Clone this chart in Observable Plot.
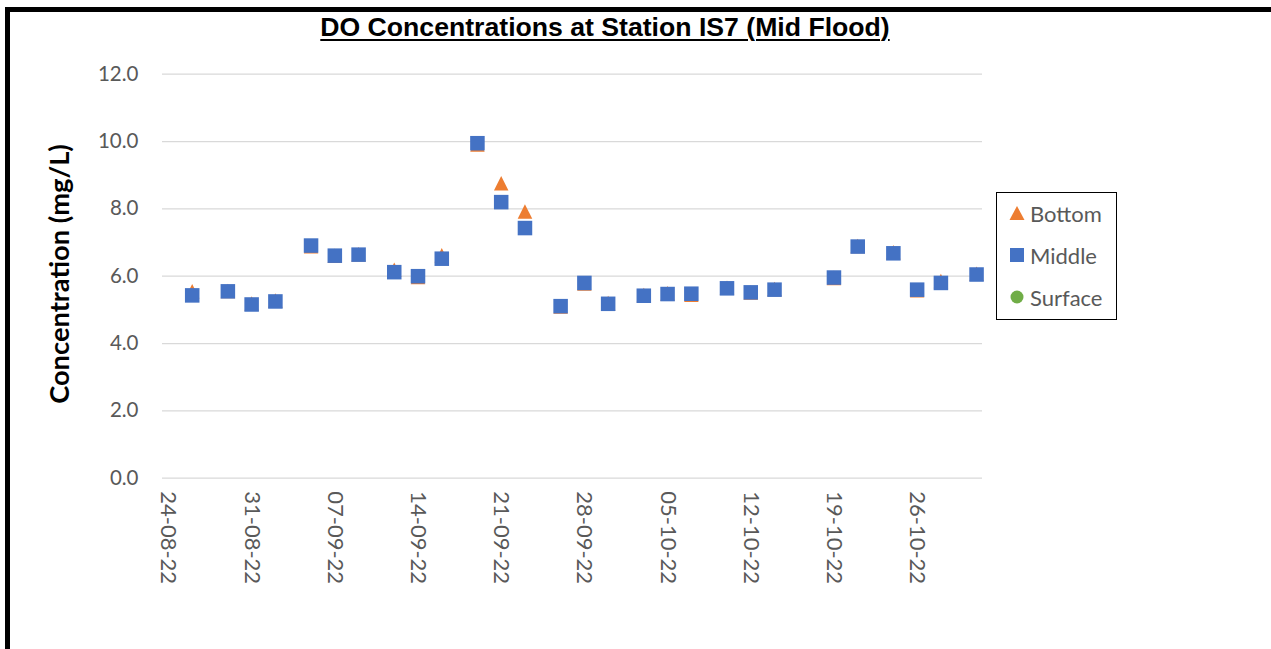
<!DOCTYPE html>
<html>
<head>
<meta charset="utf-8">
<script src="https://cdn.jsdelivr.net/npm/d3@7"></script>
<script src="https://cdn.jsdelivr.net/npm/@observablehq/plot@0.6"></script>
<style>
  html, body { margin: 0; padding: 0; background: #fff; }
  #wrap { position: relative; width: 1271px; height: 649px; overflow: hidden; background: #fff; }
  #frame { position: absolute; left: 5px; top: 7px; right: 0; bottom: 0; border-top: 5px solid #000; border-left: 5px solid #000; }
  #title { position: absolute; left: 0; width: 1210px; top: 14.5px; text-align: center; font-family: "Liberation Sans", Arimo, Arial, sans-serif; font-weight: bold; font-size: 25.5px; line-height: 1; text-decoration: underline; text-decoration-thickness: 2px; text-underline-offset: 3px; color: #000; transform: scaleX(1.044); transform-origin: 605px 50%; }
  #ylabel { position: absolute; left: 58px; top: 274px; transform: translate(-50%, -50%) rotate(-90deg); white-space: nowrap; font-family: Lato, "Open Sans", sans-serif; font-weight: bold; font-size: 27.3px; color: #000; }
  #legend { position: absolute; left: 996px; top: 192px; width: 119px; height: 126px; border: 1.5px solid #000; background: #fff; font-family: Lato, "Open Sans", sans-serif; font-size: 22px; color: #595959; }
  .li { position: absolute; left: 0; height: 30px; display: flex; align-items: center; }
  .li svg { margin-left: 12px; margin-right: 5px; }
  #chart { position: absolute; left: 0; top: 0; }
</style>
</head>
<body>
<div id="wrap">
  <div id="chart"></div>
  <div id="frame"></div>
  <div id="title"></div>
  <div id="ylabel"></div>
  <div id="legend"></div>
</div>
<script>
// ---- data ----
const titleText = "DO Concentrations at Station IS7 (Mid Flood)";
const yTitle = "Concentration (mg/L)";
const seriesNames = ["Bottom", "Middle", "Surface"];
const seriesColors = ["#ED7D31", "#4472C4", "#70AD47"];

const sampleDates = ["2022-08-26","2022-08-29","2022-08-31","2022-09-02","2022-09-05","2022-09-07","2022-09-09",
  "2022-09-12","2022-09-14","2022-09-16","2022-09-19","2022-09-21","2022-09-23","2022-09-26","2022-09-28",
  "2022-09-30","2022-10-03","2022-10-05","2022-10-07","2022-10-10","2022-10-12","2022-10-14","2022-10-19",
  "2022-10-21","2022-10-24","2022-10-26","2022-10-28","2022-10-31"];
const bottomValues = [5.55,5.56,5.19,5.28,6.89,6.61,6.65,6.19,5.98,6.62,9.91,8.76,7.92,5.10,5.78,
  5.20,5.44,5.49,5.45,5.66,5.52,5.62,5.95,6.90,6.71,5.58,5.86,6.07];
const middleValues = [5.43,5.55,5.16,5.25,6.91,6.61,6.64,6.12,6.00,6.52,9.95,8.20,7.43,5.11,5.80,
  5.18,5.42,5.47,5.48,5.64,5.52,5.60,5.96,6.88,6.68,5.60,5.80,6.05];
const surfaceValues = []; // no surface readings shown at mid flood

const xTickLabels = ["2022-08-24","2022-08-31","2022-09-07","2022-09-14","2022-09-21","2022-09-28",
  "2022-10-05","2022-10-12","2022-10-19","2022-10-26"];
const yTickValues = [0, 2, 4, 6, 8, 10, 12];
const xDomain = ["2022-08-23T12:00Z", "2022-10-31T12:00Z"];

// ---- build ----
const toRows = (vals) => vals.map((v, i) => ({date: new Date(sampleDates[i]), value: v}));
const bottomRows = toRows(bottomValues);
const middleRows = toRows(middleValues);
const surfaceRows = toRows(surfaceValues);

// Excel-like triangle centred on its bounding box
const excelTriangle = {
  draw(ctx, size) {
    const s = Math.sqrt(size);
    ctx.moveTo(0, -s / 2);
    ctx.lineTo(s / 2, s / 2);
    ctx.lineTo(-s / 2, s / 2);
    ctx.closePath();
  }
};

const R = 8.2;
const chart = Plot.plot({
  width: 1271,
  height: 649,
  marginLeft: 162,
  marginRight: 289,
  marginTop: 73.7,
  marginBottom: 171.3,
  x: {type: "utc", domain: xDomain.map(d => new Date(d))},
  y: {domain: [0, 12]},
  style: {fontFamily: "Lato, 'Open Sans', sans-serif", fontSize: "20px", color: "#595959", background: "transparent", overflow: "visible"},
  marks: [
    Plot.gridY(yTickValues, {stroke: "#d9d9d9", strokeOpacity: 1, strokeWidth: 1.3}),
    Plot.axisY(yTickValues, {tickSize: 0, tickPadding: 24, tickFormat: d3.format(".1f"), label: null, fontSize: 20.5}),
    Plot.axisX(xTickLabels.map(d => new Date(d)), {tickSize: 0, tickPadding: 13, tickRotate: 90, tickFormat: d3.utcFormat("%d-%m-%y"), label: null, fontSize: 22}),
    Plot.dot(bottomRows, {x: "date", y: "value", symbol: excelTriangle, r: R, fill: seriesColors[0]}),
    Plot.dot(middleRows, {x: "date", y: "value", symbol: "square", r: R, fill: seriesColors[1]}),
    Plot.dot(surfaceRows, {x: "date", y: "value", symbol: "circle", r: 7, fill: seriesColors[2]})
  ]
});
document.getElementById("chart").appendChild(chart);

document.getElementById("title").textContent = titleText;
document.getElementById("ylabel").textContent = yTitle;

const swatches = [
  '<svg width="16" height="16"><polygon points="8,1 15.5,15 0.5,15" fill="' + seriesColors[0] + '"/></svg>',
  '<svg width="16" height="16"><rect x="1" y="1" width="14" height="14" fill="' + seriesColors[1] + '"/></svg>',
  '<svg width="16" height="16"><circle cx="8" cy="8" r="6.5" fill="' + seriesColors[2] + '"/></svg>'
];
const legend = document.getElementById("legend");
seriesNames.forEach((name, i) => {
  const row = document.createElement("div");
  row.className = "li";
  row.style.top = (5 + i * 42) + "px";
  row.innerHTML = swatches[i] + "<span>" + name + "</span>";
  legend.appendChild(row);
});
</script>
</body>
</html>
